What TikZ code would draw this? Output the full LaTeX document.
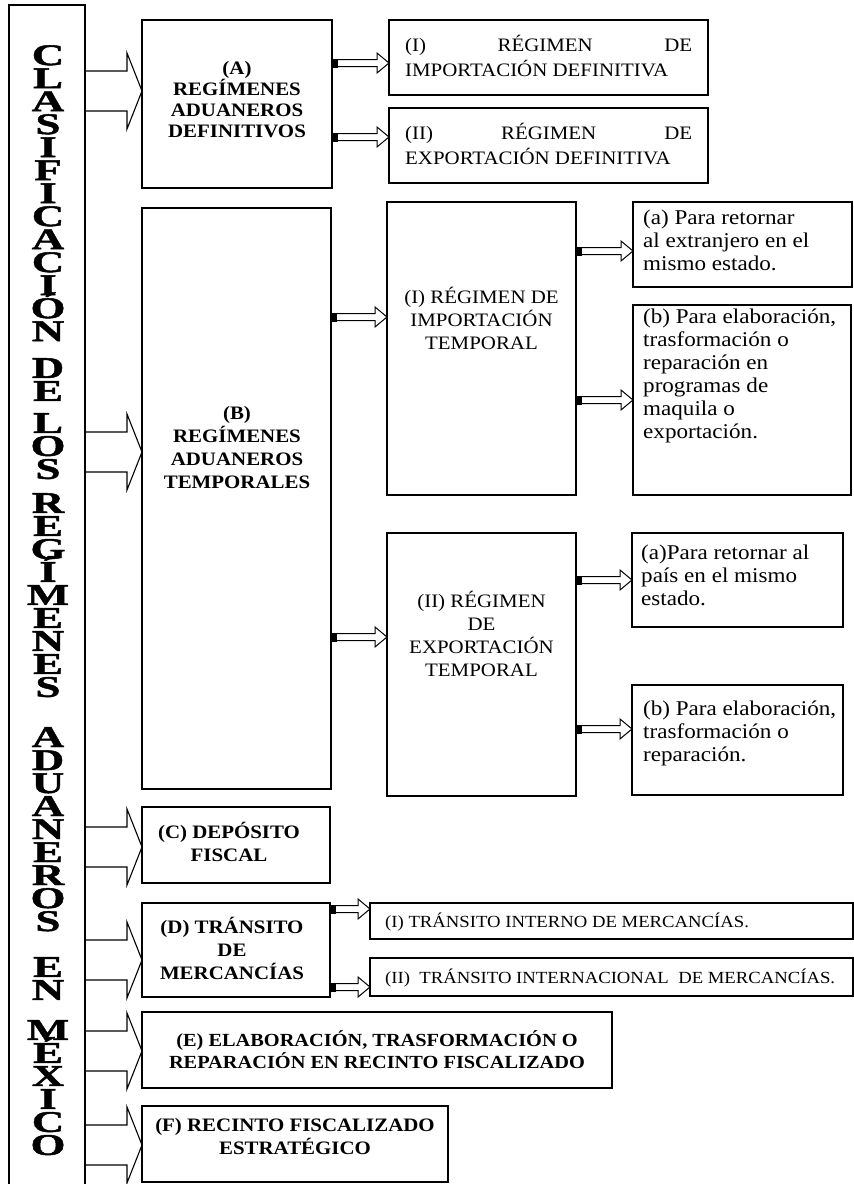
\documentclass[tikz,border=0pt]{standalone}
\usepackage{fontspec}
\setmainfont{Liberation Serif}
\newfontfamily\titlefont{Liberation Serif}[FakeStretch=1.5,FakeBold=1.5]
\newfontfamily\boxfont{Liberation Serif}[FakeStretch=1.1]
\usetikzlibrary{calc}
\tikzset{
  boxst/.style={draw, line width=1.2pt, inner sep=0pt, outer sep=0pt},
  vword/.style={font={\titlefont\bfseries\fontsize{30}{23}\selectfont\lineskiplimit=-100pt\lineskip=0pt}, align=center, inner sep=0pt, anchor=north},
  boldtxt/.style={font={\boxfont\bfseries\fontsize{19}{23}\selectfont}, align=center, inner sep=0pt},
  regtxt/.style={font={\boxfont\fontsize{19}{23}\selectfont}, align=center, inner sep=0pt},
  smalltxt/.style={font={\boxfont\fontsize{21}{23}\selectfont}, align=left, inner sep=0pt, anchor=west},
  ditxt/.style={font={\boxfont\fontsize{17}{20}\selectfont}, align=left, inner sep=0pt, anchor=west},
  bigarrow/.style={draw, line width=1.1pt, line join=miter},
  smallarrow/.style={draw, line width=1pt, fill=white},
}
% #1 style, #2 source node, #3 target node, #4 y, #5 shaft half, #6 head half, #7 head length
\newcommand\blockarrow[7]{%
  \draw[#1] let \p1=(#2.east |- 0,#4), \p2=(#3.west |- 0,#4) in
    (\x1,\y1+#5) -- (\x2-#7,\y1+#5) -- (\x2-#7,\y1+#6) -- (\x2,\y1)
    -- (\x2-#7,\y1-#6) -- (\x2-#7,\y1-#5) -- (\x1,\y1-#5);}
\newcommand\tailarrow[3]{%
  \blockarrow{smallarrow}{#1}{#2}{#3}{3.5pt}{10pt}{12pt}
  \fill let \p1=(#1.east |- 0,#3) in (\x1,\y1-4.5pt) rectangle (\x1+6pt,\y1+4.5pt);}
\newcommand\mainarrow[3]{\blockarrow{bigarrow}{#1}{#2}{#3}{20pt}{38pt}{15pt}}

\begin{document}
\begin{tikzpicture}[x=1pt,y=-1pt]
\useasboundingbox (0,0) rectangle (854,1184);
\fill[white] (0,0) rectangle (854,1184);
\begin{scope}
\clip (0,0) rectangle (854,1184);
\node[boxst, minimum width=76pt, minimum height=1200pt, anchor=north west] (bar) at (9,5) {};
\end{scope}

% vertical title
\node[vword] (w1) at (48,45) {C\\L\\A\\S\\I\\F\\I\\C\\A\\C\\I\\Ó\\N};
\node[vword] (w2) at (48,358) {D\\E};
\node[vword] (w3) at (48,413) {L\\O\\S};
\node[vword] (w4) at (48,493) {R\\E\\G\\Í\\M\\E\\N\\E\\S};
\node[vword] (w5) at (48,727) {A\\D\\U\\A\\N\\E\\R\\O\\S};
\node[vword] (w6) at (48,957) {E\\N};
\node[vword] (w7) at (48,1020) {M\\É\\X\\I\\C\\O};

% level 1 boxes
\node[boxst, minimum width=190pt, minimum height=168pt] (A) at (237,104) {};
\node[boxst, minimum width=189pt, minimum height=581pt] (B) at (236.5,498.5) {};
\node[boxst, minimum width=188pt, minimum height=76pt] (C) at (236,845) {};
\node[boxst, minimum width=188pt, minimum height=94pt] (D) at (236,950) {};
\node[boxst, minimum width=470pt, minimum height=76pt] (E) at (377,1050) {};
\node[boxst, minimum width=306pt, minimum height=76pt] (F) at (295,1144) {};

% level 2 boxes
\node[boxst, minimum width=319pt, minimum height=75pt] (AI) at (548.5,57.5) {};
\node[boxst, minimum width=319pt, minimum height=75pt] (AII) at (548.5,145.5) {};
\node[boxst, minimum width=189pt, minimum height=293pt] (BI) at (481.5,348.5) {};
\node[boxst, minimum width=189pt, minimum height=263pt] (BII) at (481.5,664.5) {};
\node[boxst, minimum width=483pt, minimum height=36pt] (DI) at (611.5,921) {};
\node[boxst, minimum width=483pt, minimum height=38pt] (DII) at (611.5,977) {};

% level 3 boxes
\node[boxst, minimum width=219pt, minimum height=85pt] (BIa) at (742.5,244.5) {};
\node[boxst, minimum width=218pt, minimum height=190pt] (BIb) at (742,400) {};
\node[boxst, minimum width=211pt, minimum height=94pt] (BIIa) at (737.5,580) {};
\node[boxst, minimum width=211pt, minimum height=110pt] (BIIb) at (737.5,740) {};

% texts
\node[boldtxt, font={\boxfont\bfseries\fontsize{19}{21}\selectfont}] (At) at (237,100) {(A)\\REGÍMENES\\ADUANEROS\\DEFINITIVOS};
\node[boldtxt] (Bt) at (237,447) {(B)\\REGÍMENES\\ADUANEROS\\TEMPORALES};
\node[boldtxt] (Ct) at (229,842) {(C) DEPÓSITO\\FISCAL};
\node[boldtxt] (Dt) at (232,948) {(D) TRÁNSITO\\DE\\MERCANCÍAS};
\node[boldtxt, font={\boxfont\bfseries\fontsize{18.5}{22}\selectfont}] (Et) at (377,1050) {(E) ELABORACIÓN, TRASFORMACIÓN O\\REPARACIÓN EN RECINTO FISCALIZADO};
\node[boldtxt] (Ft) at (295,1136) {(F) RECINTO FISCALIZADO\\ESTRATÉGICO};

\node[regtxt, align=left, anchor=west, font={\boxfont\fontsize{19}{25}\selectfont}] (AIt) at (405,56) {\hbox to 287pt{(I)\hfill RÉGIMEN\hfill DE}\\IMPORTACIÓN DEFINITIVA};
\node[regtxt, align=left, anchor=west, font={\boxfont\fontsize{19}{25}\selectfont}] (AIIt) at (405,144) {\hbox to 287pt{(II)\hfill RÉGIMEN\hfill DE}\\EXPORTACIÓN DEFINITIVA};
\node[regtxt] (BIt) at (481.5,318) {(I) RÉGIMEN DE\\IMPORTACIÓN\\TEMPORAL};
\node[regtxt] (BIIt) at (481.5,634) {(II) RÉGIMEN\\DE\\EXPORTACIÓN\\TEMPORAL};

\node[smalltxt] (BIat) at (643,240) {(a) Para retornar\\al extranjero en el\\mismo estado.};
\node[smalltxt] (BIbt) at (643,376) {(b) Para elaboración,\\trasformación o\\reparación en\\programas de\\maquila o\\exportación.};
\node[smalltxt] (BIIat) at (641,575) {(a)Para retornar al\\país en el mismo\\estado.};
\node[smalltxt] (BIIbt) at (643,733) {(b) Para elaboración,\\trasformación o\\reparación.};

\node[ditxt] (DIt) at (385,922) {(I) TRÁNSITO INTERNO DE MERCANCÍAS.};
\node[ditxt] (DIIt) at (385,978) {(II)\ \ TRÁNSITO INTERNACIONAL\ \ DE MERCANCÍAS.};

% main arrows
\mainarrow{bar}{A}{91}
\mainarrow{bar}{B}{452}
\mainarrow{bar}{C}{847}
\mainarrow{bar}{D}{960}
\mainarrow{bar}{E}{1051}
\mainarrow{bar}{F}{1145}

% small arrows
\tailarrow{A}{AI}{63}
\tailarrow{A}{AII}{137}
\tailarrow{B}{BI}{317}
\tailarrow{B}{BII}{637}
\tailarrow{BI}{BIa}{251}
\tailarrow{BI}{BIb}{400}
\tailarrow{BII}{BIIa}{580}
\tailarrow{BII}{BIIb}{729}
\tailarrow{D}{DI}{909}
\tailarrow{D}{DII}{987}
\end{tikzpicture}
\end{document}
